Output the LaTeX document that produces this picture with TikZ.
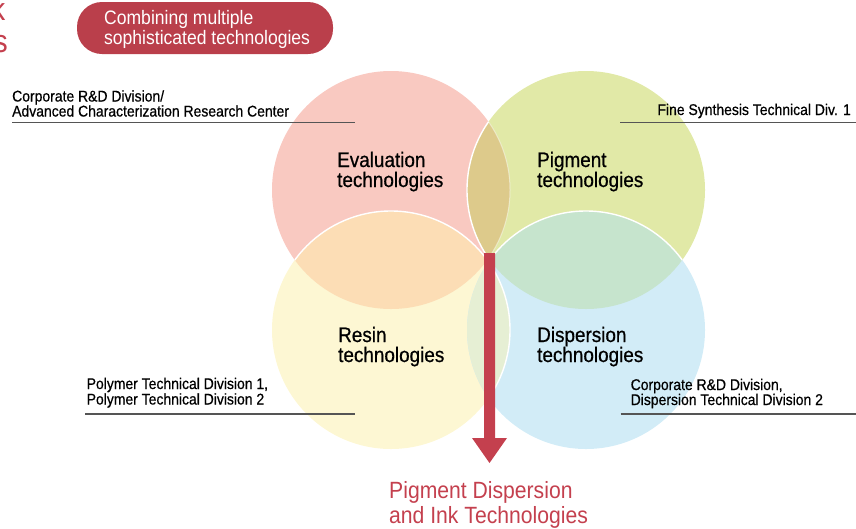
\documentclass[tikz,border=0pt]{standalone}
\usepackage{fontspec}
\setmainfont{Liberation Sans}[FakeStretch=0.9]
\newfontfamily\medfont{Liberation Sans}[FakeStretch=0.9, FakeBold=0.6]
\definecolor{pinkC}{HTML}{F9C9C1}
\definecolor{greenC}{HTML}{E1E9A7}
\definecolor{yellowC}{HTML}{FDF7D3}
\definecolor{blueC}{HTML}{D2ECF7}
\definecolor{orangeO}{HTML}{FCDDB5}
\definecolor{oliveO}{HTML}{DDCA8B}
\definecolor{mintO}{HTML}{C6E4CD}
\definecolor{paleO}{HTML}{E6EFD4}
\definecolor{redC}{HTML}{C4404E}
\definecolor{pillC}{HTML}{BA3F4B}
\definecolor{lineC}{HTML}{555555}
\tikzset{
  circlbl/.style={inner sep=0pt, anchor=base west, text=black, font=\medfont\fontsize{21}{21}\selectfont},
  sidelbl/.style={inner sep=0pt, text=black, font=\medfont\fontsize{15.5}{15.5}\selectfont},
  pilltxt/.style={inner sep=0pt, anchor=base west, text=white, font=\fontsize{19.5}{19.5}\selectfont},
  redtxt/.style={inner sep=0pt, anchor=base west, text=redC, font=\fontsize{23.5}{23.5}\selectfont},
  bigred/.style={inner sep=0pt, anchor=base east, text=redC, font=\fontsize{32}{32}\selectfont},
  underline/.style={draw=lineC, line width=1.3pt},
  edge/.style={draw=white, line width=1.4pt},
}
\begin{document}
\begin{tikzpicture}[x=1pt,y=-1pt]
\useasboundingbox (0,0) rectangle (856,528);
\def\R{119pt}
\coordinate (cP) at (391,190);
\coordinate (cG) at (586,190);
\coordinate (cY) at (391,330);
\coordinate (cB) at (586,330);
% circles
\fill[pinkC] (cP) circle[radius=\R];
\fill[greenC] (cG) circle[radius=\R];
\fill[yellowC] (cY) circle[radius=\R];
\fill[blueC] (cB) circle[radius=\R];
% overlaps
\begin{scope}\clip (cP) circle[radius=\R]; \fill[oliveO] (cG) circle[radius=\R]; \fill[orangeO] (cY) circle[radius=\R]; \end{scope}
\begin{scope}\clip (cB) circle[radius=\R]; \fill[mintO] (cG) circle[radius=\R]; \fill[paleO] (cY) circle[radius=\R]; \end{scope}
% white edges
\begin{scope}\clip (cP) circle[radius=\R]; \draw[edge] (cG) circle[radius=\R]; \draw[edge] (cY) circle[radius=\R]; \end{scope}
\begin{scope}\clip (cG) circle[radius=\R]; \draw[edge] (cB) circle[radius=\R]; \draw[draw=white, opacity=0.45, line width=1pt] (cP) circle[radius=\R]; \end{scope}
\begin{scope}\clip (cB) circle[radius=\R]; \draw[edge] (cY) circle[radius=\R]; \end{scope}
% cut-off title letters
\node[bigred] (tk) at (5.5,20) {k};
\node[bigred] (ts) at (8,52) {s};
% pill
\node[fill=pillC, rounded corners=25pt, minimum width=256pt, minimum height=52pt, inner sep=0pt] (pill) at (205,28) {};
\node[pilltxt] (pill1) at (104,24) {Combining multiple};
\node[pilltxt] (pill2) at (104,44) {sophisticated technologies};
% circle labels
\node[circlbl] (ev1) at (337,167) {Evaluation};
\node[circlbl] (ev2) at (337,187) {technologies};
\node[circlbl] (pg1) at (537,167) {Pigment};
\node[circlbl] (pg2) at (537,187) {technologies};
\node[circlbl] (rs1) at (338,342) {Resin};
\node[circlbl] (rs2) at (338,362) {technologies};
\node[circlbl] (ds1) at (537,342) {Dispersion};
\node[circlbl] (ds2) at (537,362) {technologies};
% side labels
\node[sidelbl, anchor=base west] (lt1) at (12,101.5) {Corporate R\&D Division/};
\node[sidelbl, anchor=base west] (lt2) at (12,116.5) {Advanced Characterization Research Center};
\coordinate (ltA) at (12,122.5); \coordinate (ltB) at (355,122.5);
\draw[underline] (ltA) -- (ltB);
\node[sidelbl, anchor=base east] (rt1) at (851,115) {Fine Synthesis Technical Div. 1};
\coordinate (rtA) at (620,122.5); \coordinate (rtB) at (856,122.5);
\draw[underline] (rtA) -- (rtB);
\node[sidelbl, anchor=base west] (lb1) at (86.5,389) {Polymer Technical Division 1,};
\node[sidelbl, anchor=base west] (lb2) at (86.5,404.5) {Polymer Technical Division 2};
\coordinate (lbA) at (85,414); \coordinate (lbB) at (355,414);
\draw[underline] (lbA) -- (lbB);
\node[sidelbl, anchor=base west] (rb1) at (630.5,390) {Corporate R\&D Division,};
\node[sidelbl, anchor=base west] (rb2) at (630.5,405) {Dispersion Technical Division 2};
\coordinate (rbA) at (620.5,414); \coordinate (rbB) at (856,414);
\draw[underline] (rbA) -- (rbB);
% arrow
\coordinate (mid) at (489.5,253);
\fill[redC] (484,253) -- (495,253) -- (495,438) -- (507,438) -- (489.5,463) -- (472,438) -- (484,438) -- cycle;
\node[redtxt] (out1) at (389,498) {Pigment Dispersion};
\node[redtxt] (out2) at (389,523) {and Ink Technologies};
\end{tikzpicture}
\end{document}
